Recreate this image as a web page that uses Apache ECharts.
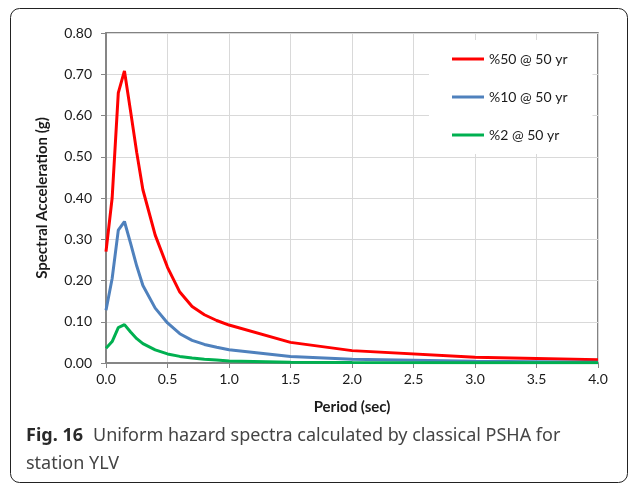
<!DOCTYPE html>
<html><head><meta charset="utf-8">
<script src="https://cdn.jsdelivr.net/npm/echarts@6/dist/echarts.min.js"></script>
<style>html,body{margin:0;padding:0;background:#fff;}#c{width:629px;height:484px;}</style>
</head><body><div id="c"></div>
<script>
var periods = [0, 0.05, 0.1, 0.15, 0.2, 0.25, 0.3, 0.4, 0.5, 0.6, 0.7, 0.8, 0.9, 1.0, 1.5, 2.0, 3.0, 4.0];
var sa50 = [0.27, 0.40, 0.655, 0.708, 0.61, 0.51, 0.42, 0.31, 0.232, 0.172, 0.137, 0.117, 0.103, 0.092, 0.050, 0.030, 0.014, 0.008];
var sa10 = [0.128, 0.205, 0.322, 0.343, 0.29, 0.235, 0.188, 0.133, 0.097, 0.071, 0.055, 0.045, 0.038, 0.032, 0.016, 0.009, 0.004, 0.002];
var sa2 = [0.036, 0.052, 0.086, 0.093, 0.075, 0.059, 0.047, 0.032, 0.022, 0.016, 0.012, 0.009, 0.007, 0.005, 0.002, 0.001, 0.0006, 0.0004];
var seriesNames = ['%50 @ 50 yr', '%10 @ 50 yr', '%2 @ 50 yr'];
var seriesColors = ['#ff0000', '#4f81bd', '#00b050'];
var xTitle = 'Period (sec)';
var yTitle = 'Spectral Acceleration (g)';
var captionBold = 'Fig. 16';
var captionLine1 = 'Uniform hazard spectra calculated by classical PSHA for';
var captionLine2 = 'station YLV';

function pairs(ys){ return periods.map(function(p,i){ return [p, ys[i]]; }); }
var allData = [sa50, sa10, sa2];
var font = 'Lato';
var chart = echarts.init(document.getElementById('c'), null, {renderer:'canvas'});
chart.setOption({
  animation: false,
  backgroundColor: '#fff',
  grid: {left: 106, right: 31, top: 33, bottom: 121, show: true, borderColor: '#595959', borderWidth: 1.5, backgroundColor: 'transparent'},
  legend: {
    orient: 'vertical', left: 429, top: 40,
    padding: [12, 25, 12, 23],
    backgroundColor: '#fff',
    icon: 'path://M0,0L32,0L32,3L0,3Z',
    itemWidth: 32, itemHeight: 3, itemGap: 24,
    textStyle: {fontFamily: font, fontSize: 14, lineHeight: 14, color: '#1a1a1a'},
    data: seriesNames
  },
  xAxis: {
    type: 'value', min: 0, max: 4, interval: 0.5,
    name: xTitle, nameLocation: 'middle', nameGap: 37,
    nameTextStyle: {fontFamily: font, fontSize: 15, fontWeight: 'bold', color: '#1a1a1a'},
    axisLine: {show: true, lineStyle: {color: '#868686', width: 2}},
    axisTick: {show: true, length: 5, lineStyle: {color: '#868686', width: 1}},
    axisLabel: {fontFamily: font, fontSize: 14, color: '#1a1a1a', margin: 9, formatter: function(v){return v.toFixed(1);}},
    splitLine: {show: true, lineStyle: {color: '#d9d9d9', width: 1}}
  },
  yAxis: {
    type: 'value', min: 0, max: 0.8, interval: 0.1,
    name: yTitle, nameLocation: 'middle', nameGap: 56,
    nameTextStyle: {fontFamily: font, fontSize: 15, fontWeight: 'bold', color: '#1a1a1a'},
    axisLine: {show: true, lineStyle: {color: '#868686', width: 2}},
    axisTick: {show: true, length: 5, lineStyle: {color: '#868686', width: 1}},
    axisLabel: {fontFamily: font, fontSize: 14, color: '#1a1a1a', margin: 14, formatter: function(v){return v.toFixed(2);}},
    splitLine: {show: true, lineStyle: {color: '#d9d9d9', width: 1}}
  },
  series: seriesNames.map(function(n, i){
    return {
      name: n, type: 'line', data: pairs(allData[i]),
      symbol: 'none', showSymbol: false,
      lineStyle: {color: seriesColors[i], width: 3},
      itemStyle: {color: seriesColors[i]}
    };
  }),
  graphic: [
    {type: 'rect', shape: {x: 10.5, y: 8.5, width: 617, height: 474, r: 9}, style: {fill: 'none', stroke: '#222', lineWidth: 1}, silent: true, z: 100},
    {type: 'text', left: 26, top: 427, style: {
      text: '{b|' + captionBold + '}   {n|' + captionLine1 + '}\n{n|' + captionLine2 + '}',
      rich: {
        b: {fontFamily: 'Noto Sans', fontSize: 18, fontWeight: 'bold', fill: '#2a2a2a', lineHeight: 28},
        n: {fontFamily: 'Noto Sans', fontSize: 18, fill: '#444', lineHeight: 28}
      }
    }, z: 100}
  ]
});
</script></body></html>
